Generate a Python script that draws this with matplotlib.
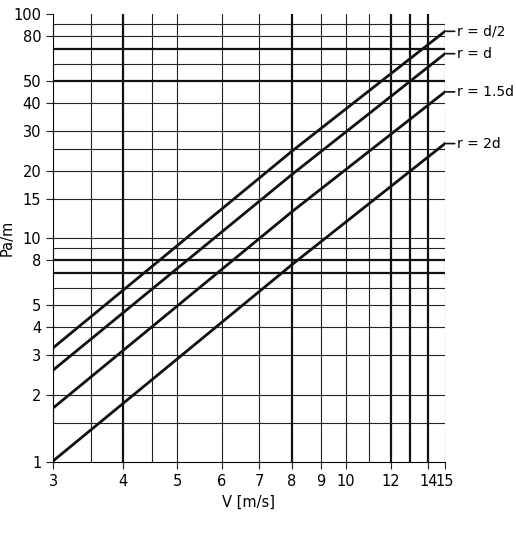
import matplotlib
matplotlib.use("Agg")
import matplotlib.pyplot as plt

v = [3, 8, 15]
series = {
    "r = d/2": [3.23, 24.4, 83.7],
    "r = d": [2.57, 19.2, 66.5],
    "r = 1.5d": [1.74, 13.1, 44.9],
    "r = 2d": [1.01, 7.6, 26.4],
}
xticks = [3, 4, 5, 6, 7, 8, 9, 10, 12, 14, 15]
yticks = [1, 2, 3, 4, 5, 8, 10, 15, 20, 30, 40, 50, 80, 100]
xgrid_thin = [3.5, 4.5, 5, 6, 7, 9, 10, 11, 15]
xgrid_thick = [4, 8, 12, 13, 14]
ygrid_thin = [1.5, 2, 3, 4, 5, 6, 9, 10, 15, 20, 25, 30, 40, 60, 80, 90]
ygrid_thick = [7, 8, 50, 70]

fig = plt.figure(figsize=(5.16, 5.42), dpi=100)
ax = fig.add_axes([53/516, 1-462/542, 392/516, 448/542])
ax.set_xscale("log"); ax.set_yscale("log")
ax.set_xlim(3, 15); ax.set_ylim(1, 100)
for x in xgrid_thin:
    ax.axvline(x, color="#222", lw=0.8)
for x in xgrid_thick:
    ax.axvline(x, color="#111", lw=1.6)
for y in ygrid_thin:
    ax.axhline(y, color="#222", lw=0.8)
for y in ygrid_thick:
    ax.axhline(y, color="#111", lw=1.6)
for name, vals in series.items():
    ax.plot(v, vals, color="#111", lw=2)
    ax.annotate(name, xy=(15, vals[-1]), xytext=(9, 0), textcoords="offset points",
                va="center", fontsize=10, annotation_clip=False,
                arrowprops=dict(arrowstyle="-", color="#111", lw=1.2, shrinkA=0, shrinkB=0))
ax.set_xticks(xticks)
ax.set_xticklabels([str(t) for t in xticks])
ax.xaxis.set_minor_locator(matplotlib.ticker.NullLocator())
ax.set_yticks(yticks)
ax.set_yticklabels([str(t) for t in yticks])
ax.yaxis.set_minor_locator(matplotlib.ticker.NullLocator())
ax.tick_params(labelsize=10.5, length=5, color="#222")
for s in ["top", "right"]:
    ax.spines[s].set_visible(False)
ax.set_xlabel("V [m/s]", fontsize=10.5)
ax.set_ylabel("Pa/m", fontsize=10.5)
ax.yaxis.set_label_coords(-38/392, 0.5)
fig.savefig("out.png", dpi=100)
